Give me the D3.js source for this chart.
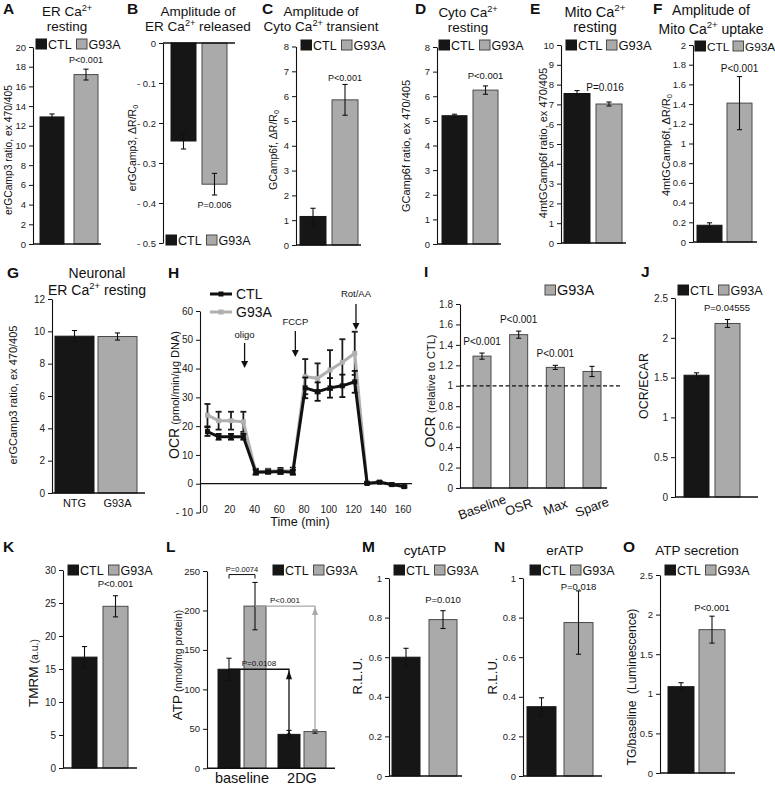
<!DOCTYPE html>
<html><head><meta charset="utf-8">
<script src="https://cdn.jsdelivr.net/npm/d3@7"></script>
<style>
body{margin:0;background:#fff}
svg{font-family:"Liberation Sans",Arial,sans-serif}
</style></head><body>
<svg id="fig" width="775" height="785"></svg>
<script>
// ================= DATA =================
const groups = ["CTL", "G93A"];
// A: ER Ca2+ resting
const erRestMean = [12.9, 17.2], erRestErr = [0.3, 0.55];
// B: amplitude of ER Ca2+ released
const erReleaseMean = [-0.245, -0.353], erReleaseErr = [0.02, 0.027];
// C: amplitude of cyto Ca2+ transient
const cytoTransMean = [1.15, 5.85], cytoTransErr = [0.33, 0.62];
// D: cyto Ca2+ resting
const cytoRestMean = [5.21, 6.25], cytoRestErr = [0.06, 0.17];
// E: mito Ca2+ resting
const mitoRestMean = [7.55, 7.02], mitoRestErr = [0.15, 0.1];
// F: amplitude of mito Ca2+ uptake
const mitoUptakeMean = [0.17, 1.41], mitoUptakeErr = [0.025, 0.27];
// G: neuronal ER Ca2+ resting
const neuronGroups = ["NTG", "G93A"];
const neuronErMean = [9.7, 9.68], neuronErErr = [0.35, 0.22];
// H: OCR time course
const ocrTime = [2, 11, 21, 31, 41, 51, 61, 71, 81, 91, 101, 111, 121, 131, 141, 151, 161];
const ocrCTL = [18.1, 16.3, 16.3, 16.3, 4.0, 4.1, 4.2, 4.0, 33.3, 32.0, 33.3, 34.0, 35.4, 0.1, 0.5, -0.3, -1.0];
const ocrCTLErr = [1.5, 1.0, 1.0, 1.0, 0.8, 0.6, 0.8, 0.8, 3.6, 3.2, 3.4, 3.9, 3.8, 0.3, 0.3, 0.3, 0.3];
const ocrG93A = [23.8, 21.9, 21.9, 21.5, 4.2, 4.4, 4.5, 4.4, 37.2, 36.6, 39.5, 42.2, 45.3, 0.3, 0.6, -0.3, -1.0];
const ocrG93AErr = [3.9, 3.1, 3.1, 3.5, 1.0, 0.8, 1.0, 1.2, 6.1, 5.2, 6.9, 8.0, 7.5, 0.4, 0.4, 0.4, 0.4];
const injections = ["oligo", "FCCP", "Rot/AA"];
const injectionTime = [32, 73, 122];
// I: OCR parameters relative to CTL
const ocrParams = ["Baseline", "OSR", "Max", "Spare"];
const ocrRelMean = [1.29, 1.50, 1.18, 1.14], ocrRelErr = [0.03, 0.035, 0.02, 0.05];
const ocrRelP = ["P<0.001", "P<0.001", "P<0.001", ""];
// J: OCR/ECAR
const ocrEcarMean = [1.53, 2.18], ocrEcarErr = [0.03, 0.05];
// K: TMRM
const tmrmMean = [16.8, 24.5], tmrmErr = [1.6, 1.6];
// L: ATP
const atpConditions = ["baseline", "2DG"];
const atpCTL = [125.5, 43], atpCTLErr = [14, 5];
const atpG93A = [205.5, 46.5], atpG93AErr = [30, 2];
// M, N, O
const cytAtpMean = [0.60, 0.79], cytAtpErr = [0.045, 0.045];
const erAtpMean = [0.35, 0.775], erAtpErr = [0.045, 0.16];
const atpSecMean = [1.09, 1.81], atpSecErr = [0.05, 0.17];

// ================= HELPERS =================
const svg = d3.select("#fig");
const BLACK = "#161616", GREY = "#aaaaaa", GREY_STROKE = "#4a4a4a", INK = "#111";
const num = d => String(+(+d).toFixed(3));
const neg = d => (d < 0 ? "- " + num(Math.abs(d)) : num(d));

function rich(t, parts, size) {
  let prev = 0;
  parts.forEach(p => {
    let txt, fs = size, sh = 0;
    if (typeof p === "object") { txt = p.t; fs = p.size; }
    else if (p[0] === "^") { txt = p.slice(1); fs = size * 0.68; sh = -size * 0.4; }
    else if (p[0] === "_") { txt = p.slice(1); fs = size * 0.68; sh = size * 0.22; }
    else txt = p;
    t.append("tspan").attr("font-size", fs).attr("dy", sh - prev).text(txt);
    prev = sh;
  });
}
function label(x, y, parts, size, opts = {}) {
  const t = svg.append("text").attr("x", x).attr("y", y).attr("font-size", size)
    .attr("text-anchor", opts.anchor || "middle").attr("fill", opts.fill || INK);
  if (opts.bold) t.attr("font-weight", "bold");
  if (opts.rotate) t.attr("transform", `rotate(${opts.rotate},${x},${y})`);
  rich(t, parts, size);
  return t;
}
function ylabel(cx, cy, parts, size) {
  return label(cx + size * 0.36, cy, parts, size, { rotate: -90 });
}
function letter(x, y, s) { label(x, y, [s], 15.5, { anchor: "start", bold: true }); }
function title(cx, y1, l1, y2, l2, size = 13.5) {
  label(cx, y1, l1, size);
  if (l2) label(cx, y2, l2, size);
}
function legend(x, y, items = groups, size = 12.5, colors = [BLACK, GREY], strokes = [BLACK, GREY_STROKE], gap = 40.5) {
  items.forEach((name, i) => {
    const ox = x + i * gap;
    svg.append("rect").attr("x", ox).attr("y", y - 5).attr("width", 10.5).attr("height", 10)
      .attr("fill", colors[i]).attr("stroke", strokes[i]).attr("stroke-width", 1);
    svg.append("text").attr("x", ox + 12).attr("y", y + 4.6).attr("font-size", size).attr("fill", INK).text(name);
  });
}
function bandFor(cats, left, right, bw) {
  const n = cats.length;
  const step = (right - left - bw) / (n - 1);
  return d3.scaleBand().domain(cats).range([left, right]).paddingInner(1 - bw / step).paddingOuter(0);
}
function yAxis(y, axisX, ticks, fmt = num, size = 9.5) {
  const g = svg.append("g").attr("transform", `translate(${axisX},0)`)
    .call(d3.axisLeft(y).tickValues(ticks).tickSize(4).tickSizeOuter(0).tickPadding(3).tickFormat(fmt));
  g.selectAll("text").attr("font-size", size).attr("font-family", "Liberation Sans, Arial, sans-serif").attr("fill", "#222");
  g.select(".domain").attr("stroke", INK).attr("stroke-width", 1.1);
  g.selectAll(".tick line").attr("stroke", INK);
  return g;
}
function hline(x1, x2, y, color = INK, w = 1.4) {
  svg.append("line").attr("x1", x1).attr("x2", x2).attr("y1", y).attr("y2", y)
    .attr("stroke", color).attr("stroke-width", w);
}
function drawBars(x, y, cats, mean, err, colors, strokes, offset = 0) {
  const data = cats.map((c, i) => ({ c, v: mean[i], e: err[i], i }));
  const g = svg.append("g");
  g.selectAll("rect").data(data).join("rect")
    .attr("x", d => offset + x(d.c)).attr("width", x.bandwidth())
    .attr("y", d => Math.min(y(d.v), y(0))).attr("height", d => Math.abs(y(d.v) - y(0)))
    .attr("fill", d => colors[d.i]).attr("stroke", d => strokes[d.i]).attr("stroke-width", 1);
  const cap = 2.6;
  const eg = g.selectAll("g").data(data).join("g").attr("stroke", INK).attr("stroke-width", 1.1);
  eg.append("line").attr("x1", d => offset + x(d.c) + x.bandwidth() / 2).attr("x2", d => offset + x(d.c) + x.bandwidth() / 2)
    .attr("y1", d => y(d.v - d.e)).attr("y2", d => y(d.v + d.e));
  [-1, 1].forEach(s => {
    eg.append("line").attr("x1", d => offset + x(d.c) + x.bandwidth() / 2 - cap).attr("x2", d => offset + x(d.c) + x.bandwidth() / 2 + cap)
      .attr("y1", d => y(d.v + s * d.e)).attr("y2", d => y(d.v + s * d.e));
  });
  return data;
}
function barPanel(o) {
  const y = d3.scaleLinear().domain(o.domain).range([o.yBottom, o.yTop]);
  const cats = o.cats || groups;
  const x = bandFor(cats, o.barL, o.barR, o.bw);
  drawBars(x, y, cats, o.mean, o.err, o.colors || [BLACK, GREY], o.strokes || [BLACK, GREY_STROKE]);
  yAxis(y, o.axisX, o.ticks, o.fmt || num, o.tickSize || 9.5);
  hline(o.axisX, o.baseEnd, y(0));
  if (o.p) {
    const xc = o.pX != null ? o.pX : x(cats[1]) + x.bandwidth() / 2;
    label(xc, o.pY, [o.p], o.pSize || 9.5);
  }
  return { x, y };
}

// ================= ROW 1 =================
// A
letter(3, 14, "A");
title(67, 16, ["ER Ca", "^2+"], 31, ["resting"]);
legend(36, 44);
barPanel({ mean: erRestMean, err: erRestErr, domain: [0, 20], yBottom: 244, yTop: 47, axisX: 33,
  ticks: d3.range(0, 21, 2), barL: 40, barR: 98, bw: 24, baseEnd: 101, p: "P<0.001", pY: 63, pSize: 9 });
ylabel(8, 150, ["erGCamp3 ratio, ex 470/405"], 10.3);

// B
letter(127, 14, "B");
title(198, 16, ["Amplitude of"], 31, ["ER Ca", "^2+", " released"]);
barPanel({ mean: erReleaseMean, err: erReleaseErr, domain: [-0.5, 0], yBottom: 243, yTop: 43, axisX: 163,
  ticks: [0, -0.1, -0.2, -0.3, -0.4, -0.5], fmt: neg, barL: 171, barR: 227, bw: 25, baseEnd: 235,
  p: "P=0.006", pY: 208, pSize: 9 });
legend(166, 240);
ylabel(132, 148, ["erGCamp3, ΔR/R", "_0"], 10.5);

// C
letter(262, 14, "C");
title(321, 16, ["Amplitude of"], 31, ["Cyto Ca", "^2+", " transient"]);
legend(301, 45);
barPanel({ mean: cytoTransMean, err: cytoTransErr, domain: [0, 8], yBottom: 245, yTop: 46.5, axisX: 296,
  ticks: d3.range(0, 9), barL: 300, barR: 358, bw: 26, baseEnd: 361, p: "P<0.001", pY: 81, pSize: 9 });
ylabel(273, 150, ["GCamp6f, ΔR/R", "_0"], 10.5);

// D
letter(415, 14, "D");
title(468, 17, ["Cyto Ca", "^2+"], 32, ["resting"]);
legend(439, 45);
barPanel({ mean: cytoRestMean, err: cytoRestErr, domain: [0, 8], yBottom: 244, yTop: 47, axisX: 437,
  ticks: d3.range(0, 9), barL: 442, barR: 498, bw: 25, baseEnd: 501, p: "P<0.001", pY: 79, pSize: 9.5 });
ylabel(406, 146, ["GCamp6f ratio, ex 470/405"], 11);

// E
letter(530, 14, "E");
title(595, 17, ["Mito Ca", "^2+"], 32, ["resting"], 14.5);
legend(566, 45, groups, 13);
barPanel({ mean: mitoRestMean, err: mitoRestErr, domain: [0, 10], yBottom: 243, yTop: 45, axisX: 561,
  ticks: d3.range(0, 11), barL: 564, barR: 622, bw: 26, baseEnd: 626, p: "P=0.016", pY: 91, pX: 605, pSize: 10 });
ylabel(543, 143, ["4mtGCamp6f ratio, ex 470/405"], 11);

// F
letter(653, 14, "F");
title(711, 15, ["Amplitude of"], 33.5, ["Mito Ca", "^2+", " uptake"], 14);
legend(695, 46, groups, 11.8, [BLACK, GREY], [BLACK, GREY_STROKE], 38);
barPanel({ mean: mitoUptakeMean, err: mitoUptakeErr, domain: [0, 2], yBottom: 242, yTop: 45, axisX: 693,
  ticks: d3.range(0, 2.01, 0.2), barL: 697, barR: 752, bw: 25, baseEnd: 757, p: "P<0.001", pY: 72, pSize: 10 });
ylabel(666, 145, ["4mtGCamp6f, ΔR/R", "_0"], 11);

// ================= ROW 2 =================
// G
letter(7, 278, "G");
title(97, 278, ["Neuronal"], 295, ["ER Ca", "^2+", " resting"], 14);
{
  const r = barPanel({ cats: neuronGroups, mean: neuronErMean, err: neuronErErr, domain: [0, 12], yBottom: 493, yTop: 299,
    axisX: 52, ticks: d3.range(0, 13, 2), barL: 55, barR: 137, bw: 39, baseEnd: 145, tickSize: 10 });
  svg.selectAll(null).data(neuronGroups).join("text")
    .attr("x", d => r.x(d) + r.x.bandwidth() / 2).attr("y", 507).attr("text-anchor", "middle")
    .attr("font-size", 11).attr("fill", INK).text(d => d);
}
ylabel(13, 395, ["erGCamp3 ratio, ex 470/405"], 11);

// H
letter(168, 278, "H");
{
  const hx = d3.scaleLinear().domain([0, 160]).range([205, 403]);
  const hy = d3.scaleLinear().domain([-10, 60]).range([512.5, 311]);
  yAxis(hy, 200, d3.range(-10, 61, 10), neg, 10);
  hline(200, 412, hy(0), INK, 1.2);
  svg.append("g").selectAll("text").data(d3.range(0, 161, 20)).join("text")
    .attr("x", d => hx(d)).attr("y", 513).attr("text-anchor", "middle").attr("font-size", 10)
    .attr("fill", "#222").text(d => d);
  label(300, 526, ["Time (min)"], 12.5);
  const series = [
    { name: "G93A", v: ocrG93A, e: ocrG93AErr, color: "#b0b0b0", ecolor: "#1c1c1c" },
    { name: "CTL", v: ocrCTL, e: ocrCTLErr, color: "#111", ecolor: "#111" }
  ];
  const line = d3.line().x((d, i) => hx(ocrTime[i])).y(d => hy(d));
  series.forEach(s => {
    const g = svg.append("g");
    g.selectAll("g").data(s.v).join("g").each(function (d, i) {
      const gg = d3.select(this).attr("stroke", s.ecolor).attr("stroke-width", 1.8);
      const xc = hx(ocrTime[i]);
      gg.append("line").attr("x1", xc).attr("x2", xc).attr("y1", hy(d - s.e[i])).attr("y2", hy(d + s.e[i]));
      [-1, 1].forEach(k => gg.append("line").attr("x1", xc - 3).attr("x2", xc + 3)
        .attr("y1", hy(d + k * s.e[i])).attr("y2", hy(d + k * s.e[i])));
    });
    g.append("path").attr("d", line(s.v)).attr("fill", "none").attr("stroke", s.color).attr("stroke-width", 3);
    g.selectAll("rect").data(s.v).join("rect")
      .attr("x", (d, i) => hx(ocrTime[i]) - 2.5).attr("y", d => hy(d) - 2.5).attr("width", 5).attr("height", 5)
      .attr("fill", s.color);
  });
  // legend
  [["CTL", "#111", 294], ["G93A", "#b0b0b0", 312]].forEach(([n, c, yy]) => {
    hline(210, 232, yy, c, 3);
    svg.append("rect").attr("x", 218.5).attr("y", yy - 2.5).attr("width", 5).attr("height", 5).attr("fill", c);
    svg.append("text").attr("x", 236).attr("y", yy + 5).attr("font-size", 14).attr("fill", INK).text(n);
  });
  // injection arrows
  const annY = [[338, 343, 368], [325, 331, 357], [297, 304, 330]];
  injections.forEach((n, i) => {
    const xa = hx(injectionTime[i]);
    const [ty, a1, a2] = annY[i];
    label(xa, ty, [n], 9.5);
    svg.append("line").attr("x1", xa).attr("x2", xa).attr("y1", a1).attr("y2", a2 - 5).attr("stroke", INK).attr("stroke-width", 1.3);
    svg.append("path").attr("d", `M${xa - 3.5},${a2 - 7}L${xa + 3.5},${a2 - 7}L${xa},${a2}Z`).attr("fill", INK);
  });
  ylabel(174, 395, [{ t: "OCR", size: 14 }, { t: " (pmol/min/μg DNA)", size: 11 }], 14);
}

// I
letter(424, 277, "I");
legend(545, 290, ["G93A"], 14.5, [GREY], [GREY_STROKE]);
{
  const r = barPanel({ cats: ocrParams, mean: ocrRelMean, err: ocrRelErr, domain: [0, 1.8], yBottom: 488, yTop: 304,
    axisX: 460, ticks: d3.range(0, 1.81, 0.2), barL: 473, barR: 601, bw: 18, baseEnd: 607,
    colors: [GREY, GREY, GREY, GREY], strokes: [GREY_STROKE, GREY_STROKE, GREY_STROKE, GREY_STROKE], tickSize: 10 });
  svg.append("line").attr("x1", 460).attr("x2", 620).attr("y1", r.y(1)).attr("y2", r.y(1))
    .attr("stroke", INK).attr("stroke-width", 1.3).attr("stroke-dasharray", "4,2.5");
  ocrParams.forEach((c, i) => {
    const xc = r.x(c) + r.x.bandwidth() / 2;
    if (ocrRelP[i]) label(xc, r.y(ocrRelMean[i] + ocrRelErr[i]) - 8, [ocrRelP[i]], 10);
    svg.append("text").attr("transform", `translate(${xc},${507}) rotate(-20)`).attr("text-anchor", "middle")
      .attr("dy", "0.35em").attr("font-size", 13).attr("fill", INK).text(c);
  });
}
ylabel(430, 391, [{ t: "OCR", size: 14 }, { t: " (relative to CTL)", size: 11 }], 14);

// J
letter(641, 277, "J");
legend(678, 290);
barPanel({ mean: ocrEcarMean, err: ocrEcarErr, domain: [0, 2.5], yBottom: 497, yTop: 298, axisX: 675,
  ticks: d3.range(0, 2.51, 0.5), barL: 684, barR: 740, bw: 25, baseEnd: 758, p: "P=0.04555", pY: 311, pX: 727, pSize: 9.5, tickSize: 10 });
ylabel(643, 386, ["OCR/ECAR"], 12.5);

// ================= ROW 3 =================
// K
letter(3, 552, "K");
legend(68, 570);
barPanel({ mean: tmrmMean, err: tmrmErr, domain: [0, 30], yBottom: 768, yTop: 570, axisX: 63,
  ticks: d3.range(0, 31, 5), barL: 72, barR: 128, bw: 25, baseEnd: 137, p: "P<0.001", pY: 587, pSize: 9.5, tickSize: 10 });
ylabel(33, 673, [{ t: "TMRM", size: 13.5 }, { t: " (a.u.)", size: 10.5 }], 13.5);

// L
letter(166, 552, "L");
legend(273, 570);
{
  const y = d3.scaleLinear().domain([0, 250]).range([768.3, 571]);
  const x0 = bandFor(atpConditions, 218, 326, 48);
  const x1 = bandFor(groups, 0, 48, 22);
  atpConditions.forEach((cond, j) => {
    drawBars(x1, y, groups, [atpCTL[j], atpG93A[j]], [atpCTLErr[j], atpG93AErr[j]],
      [BLACK, GREY], [BLACK, GREY_STROKE], x0(cond));
  });
  yAxis(y, 207, d3.range(0, 251, 50), num, 9.5);
  hline(207, 335, y(0));
  svg.selectAll(null).data(atpConditions).join("text")
    .attr("x", d => x0(d) + x0.bandwidth() / 2).attr("y", 783).attr("text-anchor", "middle")
    .attr("font-size", 14.5).attr("fill", INK).text(d => d);
  const cx = (c, g) => x0(c) + x1(g) + x1.bandwidth() / 2;
  // bracket baseline CTL vs G93A
  const by = y(atpG93A[0] + atpG93AErr[0] + 10);
  svg.append("path").attr("d", `M${cx("baseline", "CTL")},${by + 4}V${by}H${cx("baseline", "G93A")}V${by + 4}`)
    .attr("fill", "none").attr("stroke", INK).attr("stroke-width", 1);
  label((cx("baseline", "CTL") + cx("baseline", "G93A")) / 2, by - 3, ["P=0.0074"], 7.5);
  // grey arrow G93A baseline -> 2DG
  const gy = y(atpG93A[0]), gx = cx("2DG", "G93A");
  svg.append("path").attr("d", `M${cx("baseline", "G93A")},${gy}H${gx}V${y(atpG93A[1])}`)
    .attr("fill", "none").attr("stroke", "#a8a8a8").attr("stroke-width", 1.3);
  svg.append("path").attr("d", `M${gx - 3},${gy + 9}L${gx + 3},${gy + 9}L${gx},${gy + 1}Z`).attr("fill", "#a8a8a8");
  label((cx("baseline", "G93A") + gx) / 2, gy - 3, ["P<0.001"], 8);
  // black arrow CTL baseline -> 2DG
  const ky = y(atpCTL[0]), kx = cx("2DG", "CTL");
  svg.append("path").attr("d", `M${cx("baseline", "CTL")},${ky}H${kx}V${y(atpCTL[1])}`)
    .attr("fill", "none").attr("stroke", INK).attr("stroke-width", 1.3);
  svg.append("path").attr("d", `M${kx - 3},${ky + 10}L${kx + 3},${ky + 10}L${kx},${ky + 1}Z`).attr("fill", INK);
  svg.append("circle").attr("cx", kx).attr("cy", y(atpCTL[1])).attr("r", 1.8).attr("fill", INK);
  label((cx("baseline", "CTL") + kx) / 2, ky - 3, ["P=0.0108"], 8);
}
ylabel(177, 665, [{ t: "ATP", size: 13.5 }, { t: " (nmol/mg protein)", size: 10.5 }], 13.5);

// M
letter(362, 552, "M");
title(425, 555, ["cytATP"]);
legend(394, 570);
barPanel({ mean: cytAtpMean, err: cytAtpErr, domain: [0, 1], yBottom: 776, yTop: 578, axisX: 389,
  ticks: d3.range(0, 1.01, 0.2), barL: 392, barR: 457, bw: 28, baseEnd: 462, p: "P=0.010", pY: 603, pSize: 9.5 });
ylabel(357, 676, ["R.L.U."], 13);

// N
letter(494, 552, "N");
title(565, 555, ["erATP"]);
legend(530, 570);
barPanel({ mean: erAtpMean, err: erAtpErr, domain: [0, 1], yBottom: 776, yTop: 578, axisX: 523,
  ticks: d3.range(0, 1.01, 0.2), barL: 527, barR: 593, bw: 29, baseEnd: 602, p: "P=0.018", pY: 590, pSize: 9.5 });
ylabel(492, 676, ["R.L.U."], 13);

// O
letter(623, 552, "O");
title(697, 555, ["ATP secretion"]);
legend(665, 570);
barPanel({ mean: atpSecMean, err: atpSecErr, domain: [0, 2.5], yBottom: 773, yTop: 575, axisX: 660,
  ticks: d3.range(0, 2.51, 0.5), barL: 668, barR: 725, bw: 26, baseEnd: 735, p: "P<0.001", pY: 611, pSize: 9.5 });
ylabel(632, 687, ["TG/baseline\u00a0 (Luminescence)"], 12);
</script>
</body></html>
